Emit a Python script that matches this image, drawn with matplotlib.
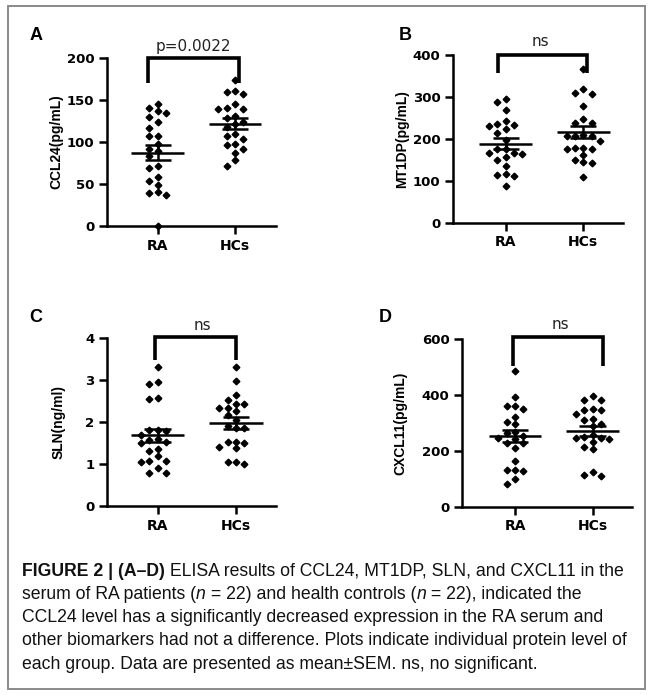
import numpy as np
import matplotlib
matplotlib.use("Agg")
import matplotlib.pyplot as plt
from matplotlib.patches import Rectangle

# ---------------- data ----------------
groups = ["RA", "HCs"]

ccl24_ra = [145, 141, 137, 134, 130, 124, 117, 107, 107, 98, 92, 89, 83, 71, 69,
            58, 53, 49, 41, 39, 37, 0]
ccl24_hc = [174, 161, 160, 157, 145, 141, 139, 139, 131, 129, 124, 122, 118, 109,
            107, 103, 98, 97, 92, 87, 79, 72]

mt1dp_ra = [295, 289, 269, 242, 236, 234, 231, 223, 214, 198, 177, 176, 166, 166,
            165, 157, 150, 135, 117, 115, 111, 89]
mt1dp_hc = [366, 319, 310, 307, 279, 247, 239, 238, 210, 208, 206, 206, 196, 178,
            178, 176, 176, 162, 150, 146, 142, 110]

sln_ra = [3.32, 2.96, 2.90, 2.58, 2.55, 1.81, 1.81, 1.79, 1.69, 1.59, 1.57, 1.53,
          1.51, 1.36, 1.32, 1.19, 1.08, 1.06, 1.04, 0.91, 0.78, 0.78]
sln_hc = [3.32, 2.98, 2.64, 2.52, 2.43, 2.43, 2.33, 2.33, 2.26, 2.17, 2.05, 1.90,
          1.86, 1.86, 1.53, 1.53, 1.49, 1.41, 1.37, 1.05, 1.05, 1.00]

cxcl11_ra = [484, 392, 361, 361, 349, 320, 303, 296, 267, 266, 254, 245, 242, 230,
             228, 212, 166, 133, 133, 127, 100, 82]
cxcl11_hc = [397, 381, 381, 350, 345, 345, 333, 314, 309, 296, 288, 256, 250, 246,
             246, 243, 231, 213, 207, 124, 113, 109]

panel_letters = ["A", "B", "C", "D"]
ylabels = ["CCL24(pg/mL)", "MT1DP(pg/mL)", "SLN(ng/ml)", "CXCL11(pg/mL)"]
yticks = [[0, 50, 100, 150, 200], [0, 100, 200, 300, 400],
          [0, 1, 2, 3, 4], [0, 200, 400, 600]]
sig_labels = ["p=0.0022", "ns", "ns", "ns"]

caption_lines = [
    [("FIGURE 2 | (A\u2013D)", "bold", "normal"),
     (" ELISA results of CCL24, MT1DP, SLN, and CXCL11 in the", "normal", "normal")],
    [("serum of RA patients (", "normal", "normal"), ("n", "normal", "italic"),
     (" = 22) and health controls (", "normal", "normal"), ("n", "normal", "italic"),
     (" = 22), indicated the", "normal", "normal")],
    [("CCL24 level has a significantly decreased expression in the RA serum and",
      "normal", "normal")],
    [("other biomarkers had not a difference. Plots indicate individual protein level of",
      "normal", "normal")],
    [("each group. Data are presented as mean\u00b1SEM. ns, no significant.",
      "normal", "normal")],
]

# ---------------- layout (pixels) ----------------
W, H = 652, 695
fig = plt.figure(figsize=(W / 100, H / 100), dpi=100)
fig.patch.set_facecolor("white")

boxes = [
    dict(l=107, r=276, t=58, b=226, xra=157.7, xhc=235.0),
    dict(l=453, r=623, t=55, b=223, xra=505.7, xhc=583.3),
    dict(l=107, r=276, t=338, b=506, xra=157.7, xhc=236.0),
    dict(l=462, r=632, t=339, b=507, xra=515.0, xhc=592.7),
]
brackets = [
    (148, 239, 58, 83, 193, 47),
    (498, 587, 55, 73, 540, 41),
    (155, 236, 337, 360, 202, 325),
    (513, 603, 337, 366, 560, 325),
]
letter_pos = [(36, 36), (405, 36), (36, 318), (385, 318)]
ylabel_x = [56, 402, 59, 400]

datasets = [(ccl24_ra, ccl24_hc), (mt1dp_ra, mt1dp_hc),
            (sln_ra, sln_hc), (cxcl11_ra, cxcl11_hc)]

tick_font = dict(family="DejaVu Sans", weight="bold", size=9.5)
xtick_font = dict(family="DejaVu Sans", weight="bold", size=10)


def swarm(vals, px_per_unit, step_px=8.3, min_dy=6.5):
    order = np.argsort(-np.asarray(vals), kind="stable")
    placed = []
    offs = np.zeros(len(vals))
    cands = [0]
    for k in range(1, 8):
        cands += [-k, k]
    for i in order:
        ypx = vals[i] * px_per_unit
        for c in cands:
            ok = True
            for (ox, oy) in placed:
                if abs(ox - c) < 0.9 and abs(oy - ypx) < min_dy:
                    ok = False
                    break
            if ok:
                offs[i] = c * step_px
                placed.append((c, ypx))
                break
    return offs


for k in range(4):
    bx = boxes[k]
    ax = fig.add_axes([bx["l"] / W, 1 - bx["b"] / H,
                       (bx["r"] - bx["l"]) / W, (bx["b"] - bx["t"]) / H])
    ppu_x = bx["xhc"] - bx["xra"]
    ax.set_xlim((bx["l"] - bx["xra"]) / ppu_x, (bx["r"] - bx["xra"]) / ppu_x)
    ymax = yticks[k][-1]
    ax.set_ylim(0, ymax)
    ppu_y = (bx["b"] - bx["t"]) / ymax

    for gi, vals in enumerate(datasets[k]):
        vals = np.asarray(vals, dtype=float)
        offs = swarm(vals, ppu_y) / ppu_x
        ax.plot(gi + offs, vals, "D", ms=3.4, color="black", mec="black",
                clip_on=False, zorder=3)
        m = vals.mean()
        s = vals.std(ddof=1) / np.sqrt(len(vals))
        ax.hlines(m, gi - 0.34, gi + 0.34, color="black", lw=1.8, zorder=4)
        ax.hlines([m - s, m + s], gi - 0.17, gi + 0.17, color="black", lw=1.8, zorder=4)
        ax.vlines(gi, m - s, m + s, color="black", lw=1.8, zorder=4)

    for side in ["top", "right"]:
        ax.spines[side].set_visible(False)
    for side in ["left", "bottom"]:
        ax.spines[side].set_linewidth(1.8)
        ax.spines[side].set_color("black")
    ax.set_yticks(yticks[k])
    ax.set_yticklabels([str(v) for v in yticks[k]], fontdict=tick_font)
    ax.set_xticks([0, 1])
    ax.set_xticklabels(groups, fontdict=xtick_font)
    ax.tick_params(axis="both", direction="out", length=6, width=1.8,
                   colors="black", pad=3)
    ax.set_facecolor("none")

    x0p, x1p, ytp, ybp, txp, typ = brackets[k]
    tox = lambda px: (px - bx["xra"]) / ppu_x
    toy = lambda py: (bx["b"] - py) / ppu_y
    ax.plot([tox(x0p), tox(x0p), tox(x1p), tox(x1p)],
            [toy(ybp), toy(ytp), toy(ytp), toy(ybp)],
            color="black", lw=2.6, clip_on=False, solid_joinstyle="miter",
            solid_capstyle="butt", zorder=5)
    ax.text(tox(txp), toy(typ), sig_labels[k], ha="center", va="center",
            fontsize=11, family="DejaVu Sans", color="#222222", clip_on=False)

    lx, ly = letter_pos[k]
    fig.text(lx / W, 1 - ly / H, panel_letters[k], fontsize=13, weight="bold",
             family="Liberation Sans", ha="center", va="center")
    fig.text(ylabel_x[k] / W, 1 - ((bx["t"] + bx["b"]) / 2) / H, ylabels[k],
             rotation=90, fontsize=10, weight="bold", family="Liberation Sans",
             ha="center", va="center")

fig.add_artist(Rectangle((8 / W, 1 - 689 / H), (645 - 8) / W, (689 - 6) / H,
                         transform=fig.transFigure, fill=False,
                         edgecolor="#8a8a8a", lw=1.4))

# ---------------- caption (size fitted to the reference line width) ----------------
renderer = fig.canvas.get_renderer()
cap_family = ["Liberation Sans", "DejaVu Sans"]
x_start, target_right = 22, 630
fit_line = 3


def line_width(segs, size):
    total = 0
    for (txt, wt, st) in segs:
        t = fig.text(0, 0, txt, fontsize=size, weight=wt, style=st, family=cap_family)
        total += t.get_window_extent(renderer).width
        t.remove()
    return total


base = 12.0
wid = line_width(caption_lines[fit_line], base)
cap_size = base * (target_right - x_start) / wid

y0, dy = 571, 23.3
for li, segs in enumerate(caption_lines):
    xpx = x_start
    ypx = y0 + li * dy
    for (txt, wt, st) in segs:
        t = fig.text(xpx / W, 1 - ypx / H, txt, fontsize=cap_size, weight=wt, style=st,
                     family=cap_family, ha="left", va="center", color="#111111")
        bb = t.get_window_extent(renderer)
        xpx = bb.x1

fig.savefig("out.png", dpi=100, facecolor="white")
